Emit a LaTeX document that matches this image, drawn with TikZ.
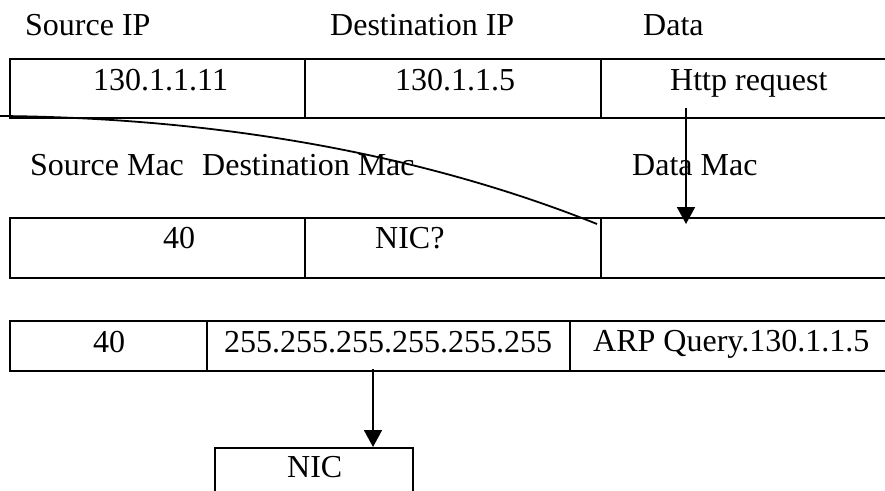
\documentclass[tikz,border=0pt]{standalone}
\usepackage{fontspec}
\setmainfont{Liberation Serif}
\usetikzlibrary{arrows.meta}
\begin{document}
\begin{tikzpicture}[x=1pt,y=-1pt,
  cell/.style={draw,line width=2pt,inner sep=0pt,outer sep=0pt,anchor=north west},
  lbl/.style={anchor=base west,inner sep=0pt,font=\fontsize{32}{36}\selectfont},
  conn/.style={line width=1.8pt},
  arr/.style={line width=1.8pt,-{Triangle[length=17pt,width=18pt]}}]
\clip (0,0) rectangle (885,490);
\fill[white] (0,0) rectangle (885,490);
% header labels
\node[lbl] (hsip) at (25,35) {Source IP};
\node[lbl] (hdip) at (330,35) {Destination IP};
\node[lbl] (hdata) at (643,35) {Data};
% row 1
\node[cell,minimum width=295pt,minimum height=59pt] (r1c1) at (10,59) {};
\node[cell,minimum width=296pt,minimum height=59pt] (r1c2) at (305,59) {};
\node[cell,minimum width=290pt,minimum height=59pt] (r1c3) at (601,59) {};
\node[lbl] (t11) at (93,90) {130.1.1.11};
\node[lbl] (t12) at (395,90) {130.1.1.5};
\node[lbl] (t13) at (670,90) {Http request};
% row 2 labels
\node[lbl] (hsmac) at (30,175) {Source Mac};
\node[lbl] (hdmac) at (202,175) {Destination Mac};
\node[lbl] (hdatamac) at (632,175) {Data Mac};
% row 2
\node[cell,minimum width=295pt,minimum height=60pt] (r2c1) at (10,218) {};
\node[cell,minimum width=296pt,minimum height=60pt] (r2c2) at (305,218) {};
\node[cell,minimum width=290pt,minimum height=60pt] (r2c3) at (601,218) {};
\node[lbl] (t21) at (163,248) {40};
\node[lbl] (t22) at (375,248) {NIC?};
% row 3
\node[cell,minimum width=197pt,minimum height=50pt] (r3c1) at (10,321) {};
\node[cell,minimum width=363pt,minimum height=50pt] (r3c2) at (207,321) {};
\node[cell,minimum width=321pt,minimum height=50pt] (r3c3) at (570,321) {};
\node[lbl] (t31) at (93,352) {40};
\node[lbl] (t32) at (224,352) {255.255.255.255.255.255};
\node[lbl] (t33) at (593,351) {ARP Query.130.1.1.5};
% NIC box
\node[cell,minimum width=198pt,minimum height=60pt] (nic) at (215,448) {};
\node[lbl] (tnic) at (287,477) {NIC};
% connectors
\coordinate (cs) at (0,116);
\coordinate (ce) at (597,224);
\draw[conn] (cs) .. controls (250,118) and (450,165) .. (ce);
\coordinate (a1s) at (686,108);
\coordinate (a1e) at (686,224);
\draw[arr] (a1s) -- (a1e);
\coordinate (a2s) at (373,369);
\coordinate (a2e) at (373,447);
\draw[arr] (a2s) -- (a2e);
\end{tikzpicture}
\end{document}
